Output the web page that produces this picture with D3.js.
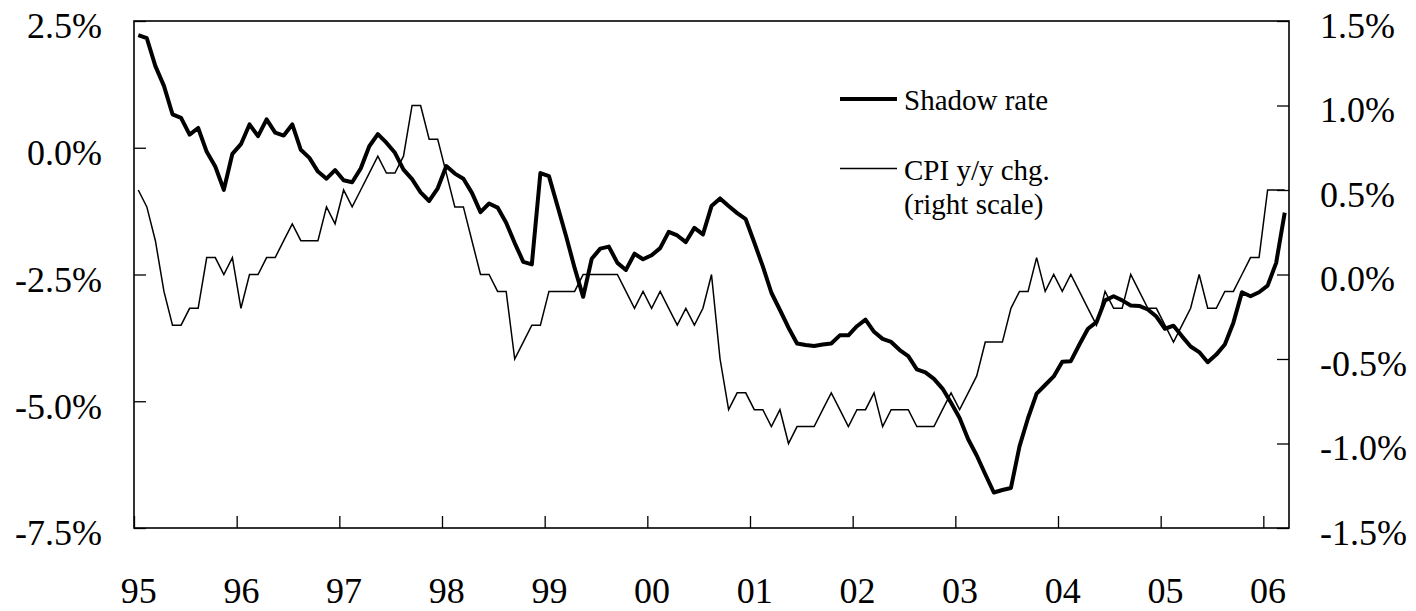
<!DOCTYPE html>
<html>
<head>
<meta charset="utf-8">
<script src="https://cdn.jsdelivr.net/npm/d3@7"></script>
<style>
    body { margin: 0; background: #fff; }
    text { font-family: "Times New Roman", "Liberation Serif", serif; fill: #000; }
</style>
</head>
<body>
<svg id="chart" width="1416" height="611"></svg>
<script>
// Year labels (one every 12 months, first month = Jan 1995)
const yearLabels = ['95', '96', '97', '98', '99', '00', '01', '02', '03', '04', '05', '06'];

// Tick values for both scales (percent)
const leftTicks = [2.5, 0, -2.5, -5, -7.5];
const rightTicks = [1.5, 1.0, 0.5, 0, -0.5, -1.0, -1.5];

// Shadow rate, monthly Jan 1995 - Mar 2006 (left scale, %)
const shadowRate = [
    2.22, 2.16, 1.61, 1.22, 0.66, 0.59, 0.26, 0.39, -0.08, -0.37, -0.83, -0.12,
    0.07, 0.46, 0.23, 0.56, 0.30, 0.24, 0.46, -0.04, -0.20, -0.47, -0.61, -0.44,
    -0.64, -0.68, -0.41, 0.03, 0.27, 0.10, -0.10, -0.43, -0.62, -0.88, -1.05, -0.80,
    -0.36, -0.51, -0.61, -0.89, -1.27, -1.10, -1.18, -1.48, -1.88, -2.25, -2.30, -0.50,
    -0.56, -1.15, -1.74, -2.37, -2.94, -2.19, -1.99, -1.95, -2.27, -2.41, -2.09, -2.20,
    -2.12, -1.98, -1.66, -1.73, -1.86, -1.58, -1.71, -1.15, -1.00, -1.15, -1.29, -1.41,
    -1.87, -2.34, -2.86, -3.20, -3.55, -3.86, -3.89, -3.91, -3.88, -3.86, -3.70, -3.70,
    -3.52, -3.39, -3.63, -3.77, -3.83, -3.99, -4.11, -4.37, -4.43, -4.56, -4.75, -5.03,
    -5.33, -5.75, -6.07, -6.44, -6.80, -6.75, -6.71, -5.89, -5.33, -4.85, -4.68, -4.51,
    -4.22, -4.21, -3.88, -3.57, -3.44, -3.01, -2.93, -3.01, -3.11, -3.12, -3.19, -3.33,
    -3.57, -3.51, -3.72, -3.92, -4.03, -4.23, -4.08, -3.88, -3.45, -2.85, -2.93, -2.85,
    -2.72, -2.27, -1.28
];

// CPI y/y change, monthly Jan 1995 - Mar 2006 (right scale, %)
const cpiChange = [
    0.5, 0.4, 0.2, -0.1, -0.3, -0.3, -0.2, -0.2, 0.1, 0.1, 0.0, 0.1,
    -0.2, 0.0, 0.0, 0.1, 0.1, 0.2, 0.3, 0.2, 0.2, 0.2, 0.4, 0.3,
    0.5, 0.4, 0.5, 0.6, 0.7, 0.6, 0.6, 0.7, 1.0, 1.0, 0.8, 0.8,
    0.6, 0.4, 0.4, 0.2, 0.0, 0.0, -0.1, -0.1, -0.5, -0.4, -0.3, -0.3,
    -0.1, -0.1, -0.1, -0.1, 0.0, 0.0, 0.0, 0.0, 0.0, -0.1, -0.2, -0.1,
    -0.2, -0.1, -0.2, -0.3, -0.2, -0.3, -0.2, 0.0, -0.5, -0.8, -0.7, -0.7,
    -0.8, -0.8, -0.9, -0.8, -1.0, -0.9, -0.9, -0.9, -0.8, -0.7, -0.8, -0.9,
    -0.8, -0.8, -0.7, -0.9, -0.8, -0.8, -0.8, -0.9, -0.9, -0.9, -0.8, -0.7,
    -0.8, -0.7, -0.6, -0.4, -0.4, -0.4, -0.2, -0.1, -0.1, 0.1, -0.1, 0.0,
    -0.1, 0.0, -0.1, -0.2, -0.3, -0.1, -0.2, -0.2, 0.0, -0.1, -0.2, -0.2,
    -0.3, -0.4, -0.3, -0.2, 0.0, -0.2, -0.2, -0.1, -0.1, 0.0, 0.1, 0.1,
    0.5, 0.5, 0.5
];

const plot = { left: 134, right: 1289, top: 21, bottom: 528 };
const fmtPct = d => d.toFixed(1) + '%';

const svg = d3.select('#chart');

// Months are categories: each point sits in the middle of its month slot
const xScale = d3.scaleLinear().domain([0, shadowRate.length]).range([plot.left, plot.right]);
const yLeft = d3.scaleLinear().domain([-7.5, 2.5]).range([plot.bottom, plot.top]);
const yRight = d3.scaleLinear().domain([-1.5, 1.5]).range([plot.bottom, plot.top]);

// Left axis, ticks pointing inward
const leftAxis = svg.append('g')
    .attr('transform', `translate(${plot.left},0)`)
    .call(d3.axisLeft(yLeft).tickValues(leftTicks).tickFormat(fmtPct)
        .tickSizeInner(-12).tickSizeOuter(0).tickPadding(32));

// Right axis, ticks pointing inward
const rightAxis = svg.append('g')
    .attr('transform', `translate(${plot.right},0)`)
    .call(d3.axisRight(yRight).tickValues(rightTicks).tickFormat(fmtPct)
        .tickSizeInner(-12).tickSizeOuter(0).tickPadding(31));

// Bottom axis: tick marks at year boundaries
const xTicks = svg.append('g')
    .attr('transform', `translate(0,${plot.bottom})`)
    .call(d3.axisBottom(xScale).tickValues(yearLabels.map((d, i) => i * 12))
        .tickFormat('').tickSizeInner(-12).tickSizeOuter(0));

// Bottom axis labels centred on the January category
const xLabels = svg.append('g')
    .attr('transform', `translate(0,${plot.bottom})`)
    .call(d3.axisBottom(xScale).tickValues(yearLabels.map((d, i) => i * 12 + 0.5))
        .tickFormat((d, i) => yearLabels[i]).tickSize(0).tickPadding(48));

[leftAxis, rightAxis, xTicks, xLabels].forEach(g => {
    g.select('.domain').remove();
    g.selectAll('.tick line').attr('stroke', '#000').attr('stroke-width', 1.3);
    g.selectAll('text').style('font-size', '36px').attr('fill', '#000');
});
leftAxis.selectAll('text').attr('dy', '0.47em');
rightAxis.selectAll('text').attr('dy', '0.45em');
xLabels.selectAll('text').attr('dy', '0.75em');

// Plot frame
svg.append('rect')
    .attr('x', plot.left)
    .attr('y', plot.top)
    .attr('width', plot.right - plot.left)
    .attr('height', plot.bottom - plot.top)
    .attr('fill', 'none')
    .attr('stroke', '#000')
    .attr('stroke-width', 1.6);

// CPI line (thin, right scale)
svg.append('path')
    .datum(cpiChange)
    .attr('fill', 'none')
    .attr('stroke', '#000')
    .attr('stroke-width', 1.5)
    .attr('stroke-linejoin', 'miter')
    .attr('d', d3.line().x((d, i) => xScale(i + 0.5)).y(d => yRight(d)));

// Shadow rate line (thick, left scale)
svg.append('path')
    .datum(shadowRate)
    .attr('fill', 'none')
    .attr('stroke', '#000')
    .attr('stroke-width', 4)
    .attr('stroke-linejoin', 'round')
    .attr('d', d3.line().x((d, i) => xScale(i + 0.5)).y(d => yLeft(d)));

// Legend
const legend = svg.append('g').style('font-size', '29px');
legend.append('line')
    .attr('x1', 840).attr('x2', 897).attr('y1', 99).attr('y2', 99)
    .attr('stroke', '#000').attr('stroke-width', 4);
legend.append('text').attr('x', 904).attr('y', 110).text('Shadow rate');

legend.append('line')
    .attr('x1', 840).attr('x2', 897).attr('y1', 168.5).attr('y2', 168.5)
    .attr('stroke', '#000').attr('stroke-width', 1.5);
legend.append('text').attr('x', 904).attr('y', 180).text('CPI y/y chg.');
legend.append('text').attr('x', 904).attr('y', 214).text('(right scale)');
</script>
</body>
</html>
